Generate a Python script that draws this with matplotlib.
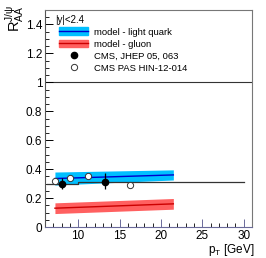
import matplotlib
matplotlib.use("Agg")
import matplotlib.pyplot as plt
import numpy as np
from matplotlib.ticker import MultipleLocator, FixedLocator
from matplotlib.patches import Patch
from matplotlib.lines import Line2D

plt.rcParams['font.family'] = ['Liberation Sans', 'DejaVu Sans']

# model bands: pT range, central values, half-widths
model_pt = [7.2, 21.5]
light_central = [0.335, 0.36]
light_half = [0.045, 0.035]
gluon_central = [0.13, 0.16]
gluon_half = [0.037, 0.037]

# CMS JHEP 05, 063 (filled)
cms_pt = [8.1, 13.2]
cms_r = [0.30, 0.31]
cms_err_up = [0.04, 0.06]
cms_err_dn = [0.035, 0.05]

# CMS PAS HIN-12-014 (open)
pas_pt = [7.2, 9.0, 11.2, 16.3]
pas_r = [0.32, 0.34, 0.35, 0.29]

# reference line (global level)
ref_pt = [6.3, 10, 10, 30]
ref_r = [0.30, 0.30, 0.31, 0.31]

fig = plt.figure(figsize=(2.66, 2.58), dpi=100)
ax = fig.add_axes([45/266, 1-227/258, (252-45)/266, (227-10)/258])

x = np.array(model_pt)
lc = np.array(light_central); lh = np.array(light_half)
gc = np.array(gluon_central); gh = np.array(gluon_half)
ax.fill_between(x, lc-lh, lc+lh, color='#00bfff', lw=0, zorder=2)
ax.plot(x, lc, color='#0000cc', lw=1.0, zorder=3)
ax.fill_between(x, gc-gh, gc+gh, color='#ff6060', lw=0, zorder=2)
ax.plot(x, gc, color='#cc0000', lw=1.0, zorder=3)

ax.axhline(1.0, color='#333333', lw=0.8, zorder=1)
ax.plot(ref_pt, ref_r, color='#333333', lw=0.9, zorder=4)

ax.errorbar(cms_pt, cms_r, yerr=[cms_err_dn, cms_err_up], fmt='o', color='black',
            ms=4.5, elinewidth=0.9, capsize=0, zorder=6)
ax.plot(pas_pt, pas_r, 'o', mfc='white', mec='#333333', ms=4.5, mew=0.7, zorder=5)

ax.set_xlim(6, 31)
ax.set_ylim(0, 1.5)
ax.xaxis.set_major_locator(FixedLocator([10, 15, 20, 25, 30]))
ax.xaxis.set_minor_locator(MultipleLocator(1))
ax.yaxis.set_minor_locator(MultipleLocator(0.05))
ax.set_yticks([0, 0.2, 0.4, 0.6, 0.8, 1.0, 1.2, 1.4])
ax.set_yticklabels(['0', '0.2', '0.4', '0.6', '0.8', '1', '1.2', '1.4'])
ax.tick_params(axis='both', which='both', direction='in', labelsize=8.5, pad=2)
ax.tick_params(which='major', length=6, width=0.7)
ax.tick_params(which='minor', length=3, width=0.6)
ax.tick_params(axis='x', colors='#6a6a9a', labelcolor='black')

for s in ['top', 'right']:
    ax.spines[s].set_color('#777777')
ax.spines['left'].set_color('#555555')
ax.spines['bottom'].set_color('#6a6a9a')

fig.text(4/266, 1-5/258, r'$\mathregular{R_{AA}^{J/\psi}}$', rotation=90, ha='left', va='top', fontsize=10.5)
fig.text(254/266, 1-242/258, r'p$_{\mathregular{T}}$ [GeV]', ha='right', va='top', fontsize=8.5)

fig.text(55/266, 1-20/258, '|y|<2.4', ha='left', va='center', fontsize=7)

handles = [
    (Patch(color='#00bfff'), Line2D([], [], color='#0000cc', lw=1.0)),
    (Patch(color='#ff6060'), Line2D([], [], color='#cc0000', lw=1.0)),
    Line2D([], [], marker='o', ls='', color='black', ms=4.5),
    Line2D([], [], marker='o', ls='', mfc='white', mec='#333333', ms=4.5, mew=0.7),
]
labels = ['model - light quark', 'model - gluon', 'CMS, JHEP 05, 063', 'CMS PAS HIN-12-014']
leg = ax.legend(handles, labels, loc='upper left', bbox_to_anchor=(59/266, 1-27.5/258),
                bbox_transform=fig.transFigure,
                frameon=False, fontsize=6.8, borderpad=0,
                handlelength=3.1, handleheight=0.9, handletextpad=0.6,
                labelspacing=0.3, borderaxespad=0)

fig.savefig('out.png', dpi=100)
